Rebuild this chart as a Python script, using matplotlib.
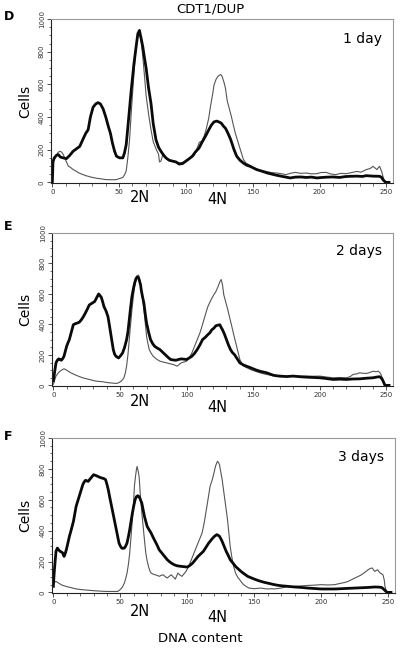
import numpy as np
from matplotlib import pyplot as plt
from matplotlib.ticker import MultipleLocator

### CDT1/DUP flow cytometry, panels D, E, F
### thick line = CDT1/DUP, thin line = control

# panel D, 1 day
d_thick_x = [0, 0.5, 1.5, 3, 4.5, 6, 8, 10.5, 13, 15.5, 18, 20.5, 23, 25, 26.8, 28.5, 30.5, 32.5, 34.2, 36, 38, 40, 42, 43.5, 45, 46.6, 48, 50.3, 52.8, 54, 55.3, 57, 59, 61, 62.7, 64, 65.2, 66.5, 67.7, 69, 70.2, 72, 73.9, 75.5, 77.6, 79.5, 81.3, 83, 85, 87.5, 90, 92.5, 95, 97.5, 100, 102.5, 104.8, 107, 109.8, 112, 114.8, 117, 119, 121, 123, 124.7, 126.5, 128, 129.7, 131.5, 133.5, 136, 138, 140.5, 143, 145.5, 148, 150, 153, 157, 161, 164.5, 168, 173, 178, 182, 186, 190, 194, 198, 202, 206, 210, 215, 219, 223, 228, 232, 235, 240, 245, 246.5, 247.5, 249.5, 252]
d_thick_y = [0, 130, 150, 165, 170, 155, 150, 145, 165, 190, 205, 220, 265, 300, 322, 400, 460, 480, 488, 480, 450, 400, 340, 300, 240, 190, 160, 150, 150, 180, 231, 380, 560, 720, 830, 910, 930, 880, 830, 760, 700, 580, 480, 360, 260, 215, 190, 170, 150, 135, 130, 125, 112, 115, 130, 145, 160, 185, 210, 245, 285, 320, 350, 370, 375, 370, 362, 345, 330, 300, 262, 200, 160, 135, 118, 105, 98, 90, 78, 68, 57, 50, 43, 35, 27, 32, 33, 30, 32, 27, 30, 32, 33, 30, 35, 37, 38, 36, 41, 38, 37, 30, 16, 0, 0]
d_thin_x = [0, 0.5, 1.5, 3.2, 4.5, 5.7, 7, 8.2, 10, 11.9, 13.5, 15.6, 17.5, 19.3, 22, 25.5, 29, 33, 36, 40, 44, 47.7, 50.5, 52.7, 54, 55.3, 56.5, 57.8, 59, 60.7, 62, 63.2, 64.5, 65.5, 66.5, 67.7, 69, 70.2, 72, 73.9, 75.5, 77.6, 79.5, 80.2, 81.3, 82.5, 85, 87, 91, 94, 96, 98.5, 101, 103.5, 106, 108, 110, 112, 113.5, 115, 117, 118.5, 120, 121, 122.5, 124, 126, 127, 128.4, 129.5, 131, 132.5, 134, 135.5, 137, 140, 143, 145, 148, 150, 153, 156, 160, 164, 168, 172, 175, 178, 182, 186, 190, 194, 198, 201, 205, 208, 212, 216, 220, 224, 228, 231, 235, 238, 240, 242, 243, 244, 245, 246.5, 247.5, 248.5, 250, 252]
d_thin_y = [0, 110, 140, 170, 185, 190, 185, 170, 135, 100, 92, 78, 70, 60, 50, 40, 32, 25, 22, 17, 16, 16, 24, 30, 45, 70, 150, 260, 420, 620, 760, 860, 915, 905, 860, 770, 650, 530, 420, 320, 250, 205, 172, 125, 130, 165, 150, 135, 128, 122, 118, 125, 140, 150, 163, 200, 245, 252, 280, 320, 390, 470, 540, 595, 630, 650, 660, 650, 615, 580, 495, 450, 404, 350, 300, 220, 140, 118, 104, 92, 82, 72, 67, 60, 57, 52, 47, 55, 61, 55, 57, 52, 53, 60, 61, 52, 47, 55, 53, 60, 67, 62, 78, 85, 98, 85, 78, 90, 98, 67, 35, 10, 0, 0]

# panel E, 2 days
e_thick_x = [0, 1, 2, 3, 4, 5, 6, 7, 8, 9, 10, 11, 12, 13.5, 15, 16.5, 18, 19.5, 21, 22.5, 24, 25.5, 27, 29, 31, 32.5, 34, 35, 36, 37, 38, 39.5, 41, 42, 43, 44, 45, 46, 47, 49, 50.5, 52, 53.5, 55, 56, 57, 58, 59, 60, 61, 62, 63, 64, 64.5, 65.5, 66, 67, 68, 69, 70, 71.5, 73, 74.5, 76, 78, 80, 82, 84, 86, 88, 90, 92, 94, 96, 98, 100, 102, 104, 106, 108, 110, 112, 114, 116, 117.5, 119, 120.5, 122, 123.5, 125, 126, 127, 128.5, 130, 131.5, 133, 134.5, 136, 138, 140, 142.5, 145, 147.5, 150, 152.5, 155, 157.5, 160, 162.5, 165, 167.5, 170, 175, 180, 185, 190, 195, 200, 205, 210, 215, 220, 225, 230, 235, 240, 243, 245, 246, 247, 248, 249, 252]
e_thick_y = [30, 90, 148, 165, 174, 170, 165, 175, 191, 225, 257, 280, 300, 350, 398, 405, 409, 415, 430, 450, 474, 500, 528, 539, 550, 575, 600, 590, 578, 550, 517, 490, 452, 400, 343, 290, 235, 205, 191, 180, 195, 213, 250, 300, 350, 430, 510, 583, 630, 670, 700, 713, 705, 691, 660, 626, 580, 539, 470, 409, 350, 300, 275, 257, 245, 235, 218, 202, 185, 170, 167, 165, 170, 174, 172, 170, 180, 191, 210, 235, 265, 300, 315, 333, 345, 365, 375, 391, 395, 398, 380, 365, 335, 300, 265, 235, 215, 202, 175, 148, 135, 126, 118, 109, 100, 93, 88, 83, 75, 67, 63, 61, 58, 61, 57, 54, 52, 50, 45, 39, 41, 39, 42, 43, 47, 50, 55, 57, 50, 39, 20, 0, 0]
e_thin_x = [0, 1, 2, 3.5, 5, 6.5, 8, 9, 10, 11.5, 13, 15, 17, 19.5, 22, 24.5, 27, 29.5, 32, 34.5, 37, 39.5, 42, 44.5, 47, 48.5, 50, 51.5, 53, 54, 55, 56, 57, 58, 59, 60, 61, 62, 63, 64, 65, 66, 67, 68, 69, 70, 71, 72, 73.5, 75, 77.5, 80, 82.5, 85, 87.5, 90, 91.5, 93, 94.5, 96, 98, 100, 102, 104, 105.5, 107, 108.5, 110, 111.5, 113, 114.5, 116, 117.5, 119, 120.5, 122, 123.5, 125, 126, 127, 128, 129.5, 131, 132.5, 134, 135.5, 137, 138.5, 140, 141.5, 143, 145.5, 148, 151.5, 155, 157.5, 160, 165, 170, 175, 180, 185, 190, 195, 200, 205, 210, 215, 220, 223, 225, 228, 230, 232, 235, 238, 240, 242, 244, 245, 246, 247, 248, 249.5, 252]
e_thin_y = [7, 35, 61, 80, 93, 102, 109, 105, 100, 92, 83, 75, 67, 58, 50, 44, 39, 33, 28, 26, 24, 20, 17, 15, 13, 15, 22, 32, 50, 80, 126, 200, 300, 400, 496, 575, 648, 690, 713, 724, 690, 648, 570, 496, 410, 322, 275, 235, 210, 191, 172, 159, 153, 148, 142, 137, 132, 126, 138, 148, 153, 159, 180, 213, 245, 278, 310, 343, 385, 430, 475, 517, 545, 572, 595, 615, 645, 680, 695, 660, 593, 545, 496, 440, 387, 330, 278, 225, 170, 145, 126, 115, 104, 93, 83, 77, 72, 64, 57, 59, 61, 60, 61, 60, 61, 55, 50, 52, 50, 58, 72, 76, 83, 80, 78, 86, 93, 90, 93, 85, 72, 45, 17, 0, 0]

# panel F, 3 days
f_thick_x = [0, 0.5, 1, 2, 3, 4, 5, 6, 7, 8, 9, 10, 11, 12, 13.5, 15, 16, 17, 18.5, 20, 21, 22, 23, 24, 25, 26, 27, 28, 29, 30, 31.5, 33, 34.5, 36, 37.5, 39, 40, 41, 42, 43, 44, 45, 46, 47, 48, 49, 50, 51, 52, 53, 54, 55, 56, 57, 58, 59, 60, 61, 62, 63, 64, 64.5, 65.5, 66, 67, 68, 69, 70, 71.5, 73, 74.5, 76, 77.5, 79, 80.5, 82, 83.5, 85, 86.5, 88, 90, 92, 94, 96, 98, 100, 102, 104, 106, 108, 110, 112, 114, 116, 117.5, 119, 120.5, 122, 123, 124, 125, 126, 127.5, 129, 130.5, 132, 134, 136, 138, 140, 142.5, 145, 147.5, 150, 152.5, 155, 157.5, 160, 162.5, 165, 167.5, 170, 175, 180, 185, 190, 195, 200, 205, 210, 215, 220, 225, 230, 235, 240, 243, 245, 246, 247, 248, 249, 252]
f_thick_y = [39, 110, 168, 266, 287, 275, 266, 262, 255, 233, 255, 287, 325, 363, 410, 460, 510, 557, 600, 644, 670, 698, 715, 726, 722, 719, 730, 741, 752, 762, 758, 752, 746, 741, 738, 730, 700, 665, 620, 579, 535, 492, 450, 406, 362, 320, 300, 287, 285, 287, 300, 320, 360, 406, 460, 514, 560, 600, 620, 626, 620, 611, 590, 579, 535, 492, 460, 428, 405, 384, 356, 330, 305, 276, 260, 244, 228, 212, 200, 190, 180, 173, 170, 168, 166, 164, 175, 190, 212, 233, 250, 266, 293, 320, 336, 352, 365, 374, 370, 363, 348, 330, 298, 266, 240, 212, 190, 168, 152, 136, 120, 104, 95, 86, 78, 71, 65, 60, 55, 50, 46, 43, 39, 35, 32, 28, 25, 22, 22, 22, 24, 26, 28, 30, 32, 35, 34, 32, 25, 17, 8, 0, 0]
f_thin_x = [0, 1, 2, 3, 4, 5.5, 7, 9, 11, 13.5, 16, 19, 22, 26, 30, 35, 40, 44, 48, 49.5, 51, 52, 53, 54, 55, 56, 57, 58, 59, 60, 60.5, 61.3, 62, 62.5, 63.2, 64, 64.5, 65, 66, 67, 68, 69, 70, 71, 72, 73, 74.5, 76, 77.5, 79, 80.5, 82, 83.5, 85, 86.5, 88, 89.5, 91, 92, 93, 94.5, 96, 97.5, 99, 100.5, 102, 103.5, 105, 106.5, 108, 109.5, 111, 112, 113, 114, 115, 116, 117, 118, 119, 120, 121, 122, 122.5, 123.3, 124, 125, 126, 127, 128, 129, 130, 131, 132, 133, 134, 135, 136, 137.5, 139, 140.5, 142, 144, 146, 148, 150, 152.5, 155, 157.5, 160, 162.5, 165, 167.5, 170, 172.5, 175, 177.5, 180, 185, 190, 195, 200, 205, 210, 212.5, 215, 217.5, 220, 222.5, 225, 227.5, 230, 232.5, 235, 236.5, 238, 239, 240, 241, 242, 243, 244, 245, 246, 247, 247.5, 248.5, 249.5, 252]
f_thin_y = [60, 66, 71, 66, 60, 52, 45, 40, 35, 30, 24, 20, 17, 14, 11, 8, 6, 6, 6, 15, 28, 42, 60, 90, 125, 180, 255, 360, 471, 600, 687, 750, 795, 816, 790, 752, 690, 622, 520, 428, 340, 255, 205, 168, 140, 125, 118, 114, 110, 104, 110, 114, 102, 93, 104, 114, 100, 86, 105, 125, 112, 104, 120, 136, 160, 190, 222, 255, 288, 320, 352, 384, 425, 471, 525, 579, 635, 687, 715, 741, 780, 816, 840, 849, 840, 827, 780, 730, 665, 600, 535, 471, 385, 298, 240, 190, 155, 125, 100, 82, 65, 50, 38, 28, 26, 24, 26, 28, 24, 22, 24, 22, 25, 28, 33, 39, 37, 39, 42, 45, 47, 50, 48, 50, 55, 60, 64, 71, 82, 93, 103, 114, 130, 147, 155, 158, 145, 136, 142, 147, 135, 125, 120, 114, 80, 39, 10, 0, 0]

panel_letters = ["D", "E", "F"]
panel_days = ["1 day", "2 days", "3 days"]
x_ticks = [0, 50, 100, 150, 200, 250]
y_ticks = [0, 200, 400, 600, 800, 1000]

W, H = 400, 648
fig = plt.figure(figsize=(W / 100, H / 100), dpi=100)

def fx(px):
	return px / W

def fy(py):
	return 1 - py / H

# axes boxes in pixels: left, top, right, bottom
boxes = [(51, 19, 393, 183), (52, 233, 393, 386), (52, 438, 395, 593)]
curves = [(d_thick_x, d_thick_y, d_thin_x, d_thin_y),
	(e_thick_x, e_thick_y, e_thin_x, e_thin_y),
	(f_thick_x, f_thick_y, f_thin_x, f_thin_y)]
label_pos = [(17, 198, 200), (227, 402, 407), (437, 612, 617)]

for i in range(3):
	l, t, r, b = boxes[i]
	ax = fig.add_axes([fx(l), fy(b), (r - l) / W, (b - t) / H])
	tx, ty, nx, ny = curves[i]
	ax.plot(nx, ny, color='#555555', lw=0.8)
	ax.plot(tx, ty, color='#0a0a0a', lw=2.0)
	ax.set_xlim(-1, 255)
	ax.set_ylim(-4, 1000)
	ax.set_xticks(x_ticks)
	ax.set_yticks(y_ticks)
	ax.xaxis.set_minor_locator(MultipleLocator(10))
	ax.yaxis.set_minor_locator(MultipleLocator(50))
	ax.tick_params(which='major', length=3, width=0.6, color='#333333', labelsize=5, labelcolor='#333333', pad=1.5)
	ax.tick_params(which='minor', length=1.8, width=0.5, color='#333333')
	for lab in ax.get_yticklabels():
		lab.set_rotation(90)
		lab.set_va('center')
	for s in ['top', 'right']:
		ax.spines[s].set_color('#999999')
		ax.spines[s].set_linewidth(0.8)
	for s in ['left', 'bottom']:
		ax.spines[s].set_color('#222222')
		ax.spines[s].set_linewidth(0.8)
	ax.set_ylabel("Cells", fontsize=10)
	# right edge of the rotated label at about x = 32 px
	ax.yaxis.set_label_coords((32 - l) / (r - l), 0.5)
	ax.text(0.968, 0.88, panel_days[i], transform=ax.transAxes, ha='right', va='center', fontsize=10)

	ly, n2y, n4y = label_pos[i]
	fig.text(fx(4), fy(ly), panel_letters[i], fontsize=9, fontweight='bold', va='center', ha='left')
	fig.text(fx(140), fy(n2y), "2N", fontsize=10.5, ha='center', va='center')
	fig.text(fx(217), fy(n4y), "4N", fontsize=10.5, ha='center', va='center')

fig.text(fx(210), fy(9), "CDT1/DUP", fontsize=9.5, ha='center', va='center')
fig.text(fx(200), fy(639), "DNA content", fontsize=9.5, ha='center', va='center')

plt.savefig("out.png", dpi=100)
